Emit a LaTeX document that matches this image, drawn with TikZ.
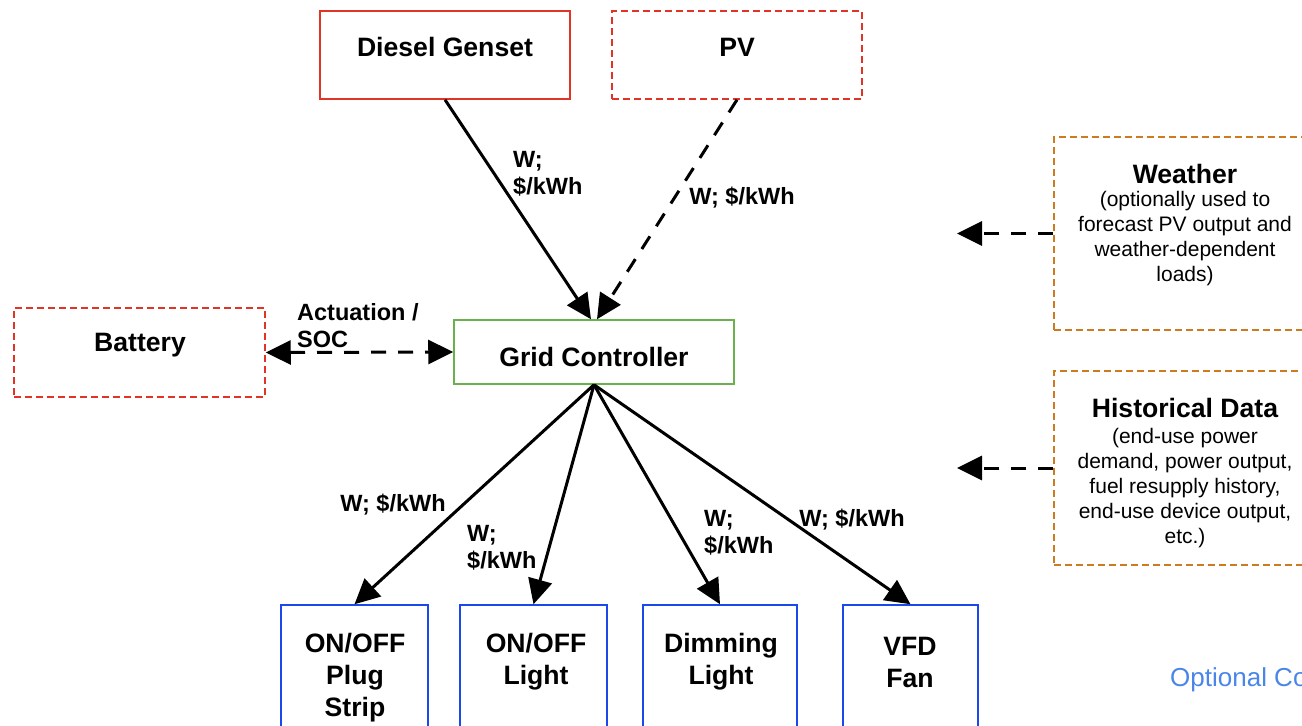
\documentclass[tikz,border=0pt]{standalone}
\usepackage{fontspec}
\setmainfont{Liberation Sans}
\usetikzlibrary{arrows.meta}
\definecolor{boxred}{RGB}{224,52,38}
\definecolor{boxgreen}{RGB}{106,176,76}
\definecolor{boxblue}{RGB}{28,72,235}
\definecolor{boxorange}{RGB}{204,124,30}
\definecolor{optblue}{RGB}{74,134,232}
\begin{document}
\begin{tikzpicture}[x=1pt,y=-1pt,
  box/.style={draw, line width=1.5pt, inner sep=0pt},
  dashbox/.style={box, dash pattern=on 7pt off 4pt},
  title/.style={font=\fontsize{26.6}{32}\selectfont\bfseries, inner sep=0pt, align=center},
  body/.style={font=\fontsize{21}{25}\selectfont, inner sep=0pt, align=center},
  lbl/.style={font=\fontsize{23.5}{27}\selectfont\bfseries, inner sep=0pt, align=left},
  conn/.style={line width=3pt, -{Triangle[length=25pt,width=24pt]}},
  dconn/.style={conn, dash pattern=on 15pt off 12pt}]
\useasboundingbox (0,0) rectangle (1302,726);

% boxes
\node[box, draw=boxred, minimum width=250pt, minimum height=88pt] (diesel) at (445,55) {};
\node[dashbox, draw=boxred, minimum width=250pt, minimum height=88pt] (pv) at (737,55) {};
\node[dashbox, draw=boxred, minimum width=251pt, minimum height=89pt] (battery) at (139.5,352.5) {};
\node[box, draw=boxgreen, minimum width=280pt, minimum height=64pt] (grid) at (594,352) {};
\node[dashbox, draw=boxorange, minimum width=256pt, minimum height=193pt] (weather) at (1182,233.5) {};
\node[dashbox, draw=boxorange, minimum width=256pt, minimum height=194pt] (hist) at (1182,468) {};
\node[box, draw=boxblue, minimum width=147pt, minimum height=140pt] (plug) at (354.5,675) {};
\node[box, draw=boxblue, minimum width=147pt, minimum height=140pt] (light) at (533.5,675) {};
\node[box, draw=boxblue, minimum width=154pt, minimum height=140pt] (dim) at (720,675) {};
\node[box, draw=boxblue, minimum width=135pt, minimum height=140pt] (vfd) at (910.5,675) {};

% box texts
\node[title] (tdiesel) at (445,47) {Diesel Genset};
\node[title] (tpv) at (737,47) {PV};
\node[title] (tbattery) at (140,345) {Battery};
\node[title] (tgrid) at (594,357) {Grid Controller};
\node[title] (tweather) at (1185,174) {Weather};
\node[body] (bweather) at (1185,239) {(optionally used to\\forecast PV output and\\weather-dependent\\loads)};
\node[title] (thist) at (1185,408) {Historical Data};
\node[body] (bhist) at (1185,488) {(end-use power\\demand, power output,\\fuel resupply history,\\end-use device output,\\etc.)};
\node[title] (tplug) at (355,678) {ON/OFF\\Plug\\Strip};
\node[title] (tlight) at (536,662) {ON/OFF\\Light};
\node[title] (tdim) at (721,662) {Dimming\\Light};
\node[title] (tvfd) at (910,662) {VFD\\Fan};

% connectors
\draw[conn] (diesel.south) -- ([xshift=-3pt]grid.north);
\draw[dconn] (pv.south) -- ([xshift=3pt]grid.north);
\draw[dconn, {Triangle[length=25pt,width=24pt]}-{Triangle[length=25pt,width=24pt]}] (battery.east) -- (grid.west);
\draw[conn] (grid.south) -- (plug.north);
\draw[conn] (grid.south) -- (light.north);
\draw[conn] (grid.south) -- (dim.north);
\draw[conn] (grid.south) -- (vfd.north);
\coordinate (wend) at (957,233.5);
\coordinate (hend) at (957,468);
\draw[dconn] (weather.west) -- (wend);
\draw[dconn] (hist.west) -- (hend);

% connector labels
\node[lbl, anchor=west] (l1) at (513,174) {W;\\\$/kWh};
\node[lbl] (l2) at (742,198) {W; \$/kWh};
\node[lbl, anchor=west] (l3) at (297,326) {Actuation /\\SOC};
\node[lbl] (l4) at (393,505) {W; \$/kWh};
\node[lbl, anchor=west] (l5) at (467,548) {W;\\\$/kWh};
\node[lbl, anchor=west] (l6) at (704,533) {W;\\\$/kWh};
\node[lbl] (l7) at (852,520) {W; \$/kWh};

\node[font=\fontsize{26}{30}\selectfont, text=optblue, inner sep=0pt, anchor=west] (opt) at (1170,680) {Optional Co};
\end{tikzpicture}
\end{document}
